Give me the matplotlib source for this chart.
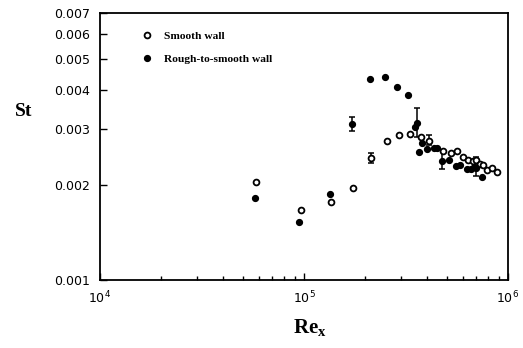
import numpy as np
from matplotlib import pyplot as plt
from matplotlib.ticker import FixedLocator, NullLocator, LogLocator

plt.rcParams["mathtext.fontset"] = "custom"
plt.rcParams["mathtext.rm"] = "Liberation Serif"
plt.rcParams["mathtext.bf"] = "Liberation Serif:bold"

# Smooth wall (open circles)
re_smooth = [5.8e4, 9.7e4, 1.35e5, 1.745e5, 2.13e5, 2.54e5, 2.91e5, 3.32e5, 3.73e5,
             4.11e5, 4.82e5, 5.24e5, 5.60e5, 6.04e5, 6.39e5, 6.71e5, 6.97e5, 7.29e5,
             7.57e5, 7.92e5, 8.32e5, 8.80e5]
st_smooth = [2.04e-3, 1.666e-3, 1.769e-3, 1.96e-3, 2.428e-3, 2.754e-3, 2.876e-3, 2.898e-3,
             2.829e-3, 2.76e-3, 2.566e-3, 2.518e-3, 2.566e-3, 2.446e-3, 2.398e-3, 2.386e-3,
             2.398e-3, 2.323e-3, 2.312e-3, 2.229e-3, 2.257e-3, 2.192e-3]

# Rough-to-smooth wall (filled circles)
re_rough = [5.75e4, 9.48e4, 1.335e5, 1.72e5, 2.10e5, 2.487e5, 2.867e5, 3.224e5, 3.50e5,
            3.565e5, 3.673e5, 3.77e5, 3.99e5, 4.32e5, 4.47e5, 4.73e5, 5.16e5, 5.56e5,
            5.82e5, 6.27e5, 6.56e5, 6.81e5, 7.0e5, 7.42e5]
st_rough = [1.822e-3, 1.529e-3, 1.867e-3, 3.117e-3, 4.336e-3, 4.38e-3, 4.082e-3, 3.842e-3,
            3.057e-3, 3.147e-3, 2.547e-3, 2.72e-3, 2.593e-3, 2.611e-3, 2.611e-3, 2.381e-3,
            2.398e-3, 2.30e-3, 2.312e-3, 2.241e-3, 2.241e-3, 2.284e-3, 2.27e-3, 2.114e-3]

# error bars: (Re, St, lower, upper)
err_smooth = [(2.13e5, 2.428e-3, 2.34e-3, 2.529e-3),
              (4.11e5, 2.76e-3, 2.675e-3, 2.876e-3)]
err_rough = [(1.72e5, 3.117e-3, 2.969e-3, 3.273e-3),
             (3.565e5, 3.147e-3, 2.842e-3, 3.494e-3),
             (4.73e5, 2.381e-3, 2.241e-3, 2.58e-3),
             (7.0e5, 2.27e-3, 2.13e-3, 2.45e-3)]

st_ticks = [0.001, 0.002, 0.003, 0.004, 0.005, 0.006, 0.007]
st_ticklabels = ["0.001", "0.002", "0.003", "0.004", "0.005", "0.006", "0.007"]

fig = plt.figure(figsize=(5.23, 3.48), dpi=100)
ax = fig.add_axes([100 / 523, 68 / 348, 408 / 523, 267 / 348])

for x, y, lo, hi in err_smooth + err_rough:
    ax.errorbar([x], [y], yerr=[[y - lo], [hi - y]], fmt="none", ecolor="black",
                elinewidth=1.1, capsize=2, capthick=1.1)

ax.plot(re_smooth, st_smooth, "o", ms=4.2, mfc="white", mec="black", mew=1.3,
        label="Smooth wall")
ax.plot(re_rough, st_rough, "o", ms=4.2, mfc="black", mec="black",
        label="Rough-to-smooth wall")

ax.set_xscale("log")
ax.set_yscale("log")
ax.set_xlim(1e4, 1e6)
ax.set_ylim(0.001, 0.007)

ax.yaxis.set_major_locator(FixedLocator(st_ticks))
ax.yaxis.set_minor_locator(NullLocator())
ax.set_yticklabels(st_ticklabels)
ax.xaxis.set_minor_locator(LogLocator(base=10, subs=np.arange(2, 10)))

ax.tick_params(which="both", direction="in", labelsize=9, colors="black")
ax.tick_params(which="major", length=5, width=1)
ax.tick_params(which="minor", length=3, width=1)
ax.tick_params(axis="y", pad=7)
ax.tick_params(axis="x", pad=7)
ax.tick_params(axis="x", which="minor", labelbottom=False)

for s in ax.spines.values():
    s.set_linewidth(1.3)

leg = ax.legend(loc="upper left", bbox_to_anchor=(0.08, 0.972), frameon=False,
                handlelength=0.8, handletextpad=1.05, labelspacing=1.15,
                prop={"family": "Liberation Serif", "weight": "bold", "size": 8.2})

fig.text(24 / 523, 1 - 111 / 348, "St", ha="center", va="center",
         family="Liberation Serif", weight="bold", fontsize=14)
fig.text(310 / 523, 1 - 328 / 348, r"$\mathbf{Re_x}$", ha="center", va="center",
         fontsize=15)

plt.savefig("out.png", dpi=100)
